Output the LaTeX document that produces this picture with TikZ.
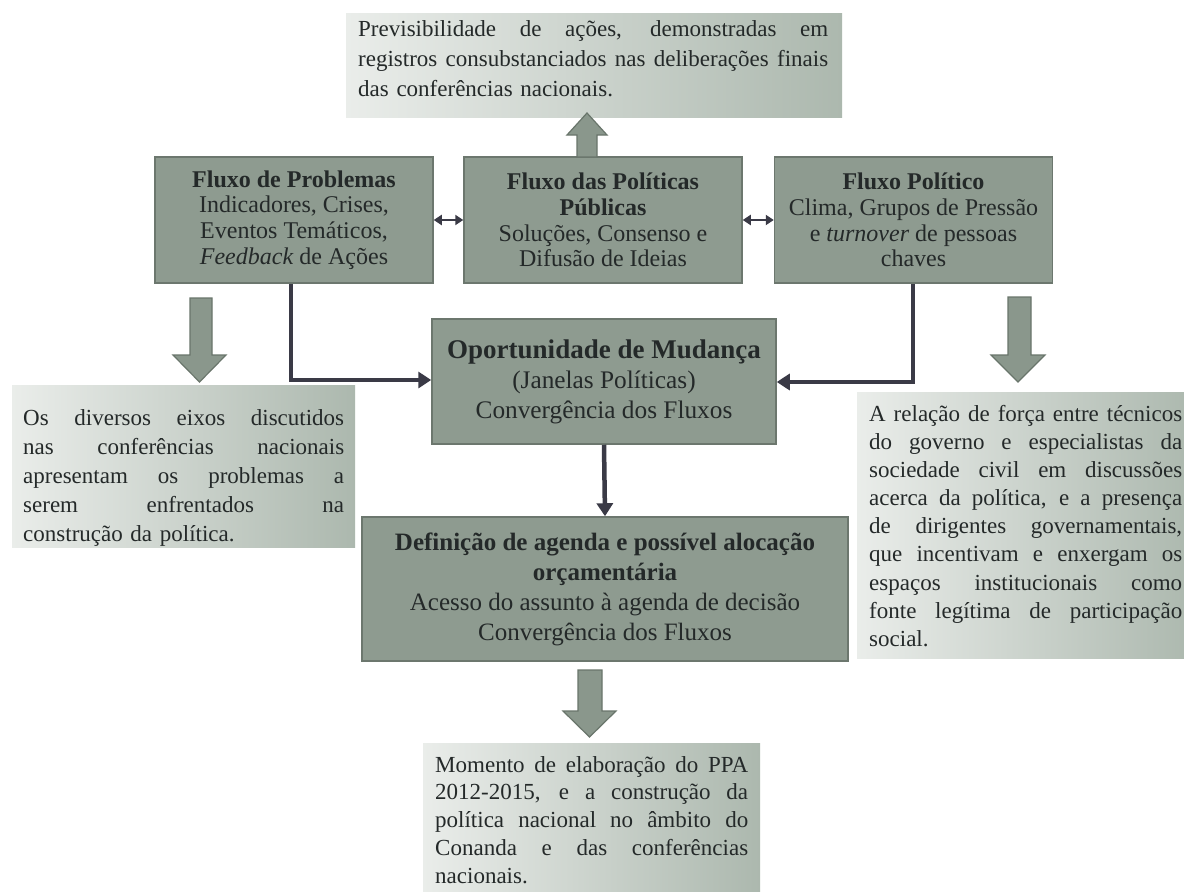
\documentclass[tikz,border=0pt]{standalone}
\usepackage{fontspec}
\setmainfont{Liberation Serif}
\usetikzlibrary{arrows.meta,calc}
\definecolor{boxfill}{RGB}{142,155,144}
\definecolor{boxedge}{RGB}{108,119,110}
\definecolor{txt}{RGB}{36,41,41}
\definecolor{conncol}{RGB}{58,58,70}
\definecolor{tbl}{RGB}{234,237,234}
\definecolor{tbr}{RGB}{172,184,174}
\definecolor{arrfill}{RGB}{138,151,140}
\definecolor{arredge}{RGB}{105,117,107}
\newcommand{\jl}[2]{\leavevmode\hbox to #1{\spaceskip=0.25em plus 1fil minus 0.1em\relax #2}}
\begin{document}
\begin{tikzpicture}[x=1pt,y=-1pt,
  flowbox/.style={draw=boxedge, line width=1.5pt, fill=boxfill, text=txt, align=center, inner sep=0pt},
  smallflow/.style={flowbox, minimum width=278pt, minimum height=126pt, font=\fontsize{24}{25.7}\selectfont},
  tshape/.style={left color=tbl, right color=tbr, draw=none, inner sep=0pt},
  ttext/.style={anchor=north west, inner sep=0pt, text=txt, align=left},
  barrow/.style={fill=arrfill, draw=arredge, line width=1.2pt, line join=miter},
  conn/.style={draw=conncol, line width=4.5pt, -{Triangle[length=13pt,width=16pt]}},
  dconn/.style={draw=conncol, line width=2.5pt, {Triangle[length=8pt,width=10pt]}-{Triangle[length=8pt,width=10pt]}}
]
\useasboundingbox (0,0) rectangle (1184,892);
\fill[white] (0,0) rectangle (1184,892);

% text boxes (shapes)
\node[tshape, minimum width=496pt, minimum height=104pt] (topbox) at (594,65) {};
\node[tshape, minimum width=343pt, minimum height=162pt] (leftbox) at (183.5,466) {};
\node[tshape, minimum width=337pt, minimum height=266pt] (rightbox) at (1025.5,525) {};
\node[tshape, minimum width=337pt, minimum height=160pt] (botbox) at (591.5,823) {};

% text box texts
\node[ttext, text width=470pt, font=\fontsize{23}{30}\selectfont] (toptxt) at (358,20)
 {\jl{470pt}{Previsibilidade de ações, demonstradas em}\\
  \jl{470pt}{registros consubstanciados nas deliberações finais}\\
  das conferências nacionais.};
\node[ttext, text width=321pt, font=\fontsize{23}{29.2}\selectfont] (lefttxt) at (23,409)
 {\jl{321pt}{Os diversos eixos discutidos}\\
  \jl{321pt}{nas conferências nacionais}\\
  \jl{321pt}{apresentam os problemas a}\\
  \jl{321pt}{serem enfrentados na}\\
  construção da política.};
\node[ttext, text width=313pt, font=\fontsize{23}{28.1}\selectfont] (righttxt) at (869,405)
 {\jl{313pt}{A relação de força entre técnicos}\\
  \jl{313pt}{do governo e especialistas da}\\
  \jl{313pt}{sociedade civil em discussões}\\
  \jl{313pt}{acerca da política, e a presença}\\
  \jl{313pt}{de dirigentes governamentais,}\\
  \jl{313pt}{que incentivam e enxergam os}\\
  \jl{313pt}{espaços institucionais como}\\
  \jl{313pt}{fonte legítima de participação}\\
  social.};
\node[ttext, text width=313pt, font=\fontsize{23}{27.8}\selectfont] (bottxt) at (435,756)
 {\jl{313pt}{Momento de elaboração do PPA}\\
  \jl{313pt}{2012-2015, e a construção da}\\
  \jl{313pt}{política nacional no âmbito do}\\
  \jl{313pt}{Conanda e das conferências}\\
  nacionais.};

% flow boxes
\node[smallflow] (b1) at (294,220)
 {\textbf{Fluxo de Problemas}\\ Indicadores, Crises,\\ Eventos Temáticos,\\ \textit{Feedback} de Ações};
\node[smallflow] (b2) at (603,220)
 {\textbf{Fluxo das Políticas}\\ \textbf{Públicas}\\ Soluções, Consenso e\\ Difusão de Ideias};
\node[smallflow] (b3) at (913.5,220)
 {\textbf{Fluxo Político}\\ Clima, Grupos de Pressão\\ e \textit{turnover} de pessoas\\ chaves};
\node[flowbox, minimum width=344pt, minimum height=125pt, font=\fontsize{25.3}{30}\selectfont] (opp) at (604,381.5)
 {{\fontsize{27}{30}\selectfont\bfseries Oportunidade de Mudança}\\ (Janelas Políticas)\\ Convergência dos Fluxos};
\node[flowbox, minimum width=486pt, minimum height=144pt, font=\fontsize{25}{30}\selectfont] (def) at (605,589)
 {\textbf{Definição de agenda e possível alocação}\\ \textbf{orçamentária}\\ Acesso do assunto à agenda de decisão\\ Convergência dos Fluxos};

% block arrows
\draw[barrow] (577,157) -- (597,157) -- (597,135) -- (607,135) -- (587,113) -- (567,135) -- (577,135) -- cycle;
\draw[barrow] (190,298) -- (212,298) -- (212,355) -- (226,355) -- (199.5,382) -- (173,355) -- (190,355) -- cycle;
\draw[barrow] (1008,297) -- (1031,297) -- (1031,355) -- (1045,355) -- (1018,382) -- (991,355) -- (1008,355) -- cycle;
\draw[barrow] (578,670) -- (602,670) -- (602,711) -- (616,711) -- (589.5,737) -- (563,711) -- (578,711) -- cycle;

% connectors
\draw[dconn] (b1.east) -- (b2.west);
\draw[dconn] (b2.east) -- (b3.west);
\draw[conn] ([xshift=-3pt]b1.south) |- ([yshift=1.5pt]opp.west);
\draw[conn] ([xshift=-0.5pt]b3.south) |- ([yshift=-0.5pt]opp.east);
\draw[conn] (opp.south) -- (def.north);
\end{tikzpicture}
\end{document}
